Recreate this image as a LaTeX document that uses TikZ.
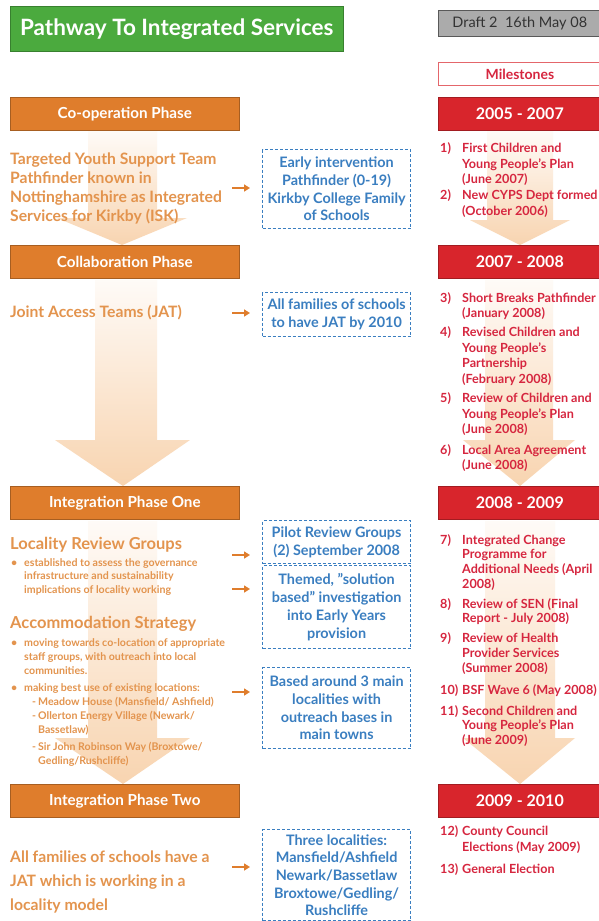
\documentclass[tikz,border=0pt]{standalone}
\usepackage{fontspec}
\setmainfont{Lato}
\usetikzlibrary{arrows.meta}
\definecolor{grn}{HTML}{4BAA3E}
\definecolor{org}{HTML}{DF7D2C}
\definecolor{orgtxt}{HTML}{E3944E}
\definecolor{redbar}{HTML}{D8252C}
\definecolor{redtxt}{HTML}{D6263F}
\definecolor{bluetxt}{HTML}{3A7EC0}
\definecolor{peach}{HTML}{F8D4B0}
\definecolor{gry}{HTML}{ABABAB}
\tikzset{
 phasebar/.style={anchor=north west, fill=org, draw=org!75!black, line width=0.6pt, minimum width=229pt, minimum height=33pt, inner sep=0pt, text=white, font=\bfseries\fontsize{15.2}{17}\selectfont},
 yearbar/.style={anchor=north west, fill=redbar, draw=redbar!75!black, line width=0.6pt, minimum width=163pt, minimum height=33pt, inner sep=0pt, text=white, font=\bfseries\fontsize{16}{18}\selectfont},
 lefttext/.style={inner sep=0pt, text=orgtxt, font=\bfseries\fontsize{15.7}{19.3}\selectfont},
 smalltext/.style={anchor=north west, inner sep=0pt, text=orgtxt, font=\bfseries\fontsize{10.6}{13.5}\selectfont},
 bluebox/.style={anchor=north west, draw=bluetxt, dash pattern=on 3pt off 2pt, line width=1.2pt, minimum width=148pt, inner sep=0pt, align=center, text=bluetxt, font=\bfseries\fontsize{14.4}{17.7}\selectfont},
 mstext/.style={anchor=north west, inner sep=0pt, text=redtxt},
 smallarrow/.style={draw=org, line width=2.4pt, -{Triangle[length=6pt,width=7pt]}},
 bgarrow/.style={top color=peach!10, bottom color=peach, draw=none},
}
\begin{document}
\begin{tikzpicture}[x=1pt,y=-1pt]
\useasboundingbox (0,0) rectangle (599,921);
\fill[white] (0,0) rectangle (599,921);
% background arrows
\shade[bgarrow] (88,131) -- (157,131) -- (157,218) -- (187,218) -- (122,245) -- (57,218) -- (88,218) -- cycle;
\shade[bgarrow] (95,280) -- (157,280) -- (157,440) -- (190,440) -- (123,486) -- (55,440) -- (95,440) -- cycle;
\shade[bgarrow] (88,521) -- (157,521) -- (157,738) -- (190,738) -- (123,784) -- (55,738) -- (88,738) -- cycle;
\shade[bgarrow] (487,131) -- (553,131) -- (553,220) -- (570,220) -- (520,245) -- (470,220) -- (487,220) -- cycle;
\shade[bgarrow] (485,280) -- (553,280) -- (553,440) -- (575,440) -- (520,486) -- (463,440) -- (485,440) -- cycle;
\shade[bgarrow] (485,521) -- (555,521) -- (555,738) -- (575,738) -- (520,784) -- (463,738) -- (485,738) -- cycle;

% header
\node[anchor=north west, fill=grn, draw=grn!75!black, line width=0.6pt, minimum width=333pt, minimum height=45pt, inner sep=0pt, text=white, font=\bfseries\fontsize{22.5}{25}\selectfont] (title) at (10,6) {Pathway To Integrated Services};
\node[anchor=north west, fill=gry, draw=gray!70!black, line width=0.6pt, minimum width=163pt, minimum height=26pt, inner sep=0pt, text=black!80, font=\fontsize{14.5}{16}\selectfont] (draft) at (438,10) {Draft 2\ \ 16th May 08};
\node[anchor=north west, fill=white, draw=redbar!70, line width=0.8pt, minimum width=163pt, minimum height=23pt, inner sep=0pt, text=redtxt, font=\bfseries\fontsize{14}{15}\selectfont] (miles) at (438,62) {Milestones};

% phase bars
\node[phasebar] (p1) at (10,97) {Co-operation Phase};
\node[phasebar] (p2) at (10,245) {Collaboration Phase};
\node[phasebar] (p3) at (10,486) {Integration Phase One};
\node[phasebar] (p4) at (10,784) {Integration Phase Two};
\node[yearbar] (y1) at (438,97) {2005 - 2007};
\node[yearbar] (y2) at (438,245) {2007 - 2008};
\node[yearbar] (y3) at (438,486) {2008 - 2009};
\node[yearbar] (y4) at (438,784) {2009 - 2010};

% left texts
\node[lefttext, anchor=north west] (t1) at (10,150.3) {\begin{tabular}{@{}l@{}}Targeted Youth Support Team\\ Pathfinder known in\\ Nottinghamshire as Integrated\\ Services for Kirkby (ISK)\end{tabular}};
\node[lefttext, anchor=base west] (t2) at (10,317.8) {Joint Access Teams (JAT)};
\node[inner sep=0pt, text=orgtxt, font=\bfseries\fontsize{16.5}{18}\selectfont, anchor=base west] (t3) at (10,549) {Locality Review Groups};
\node[smalltext] (t3b) at (11,556.8) {\begin{tabular}{@{}p{13pt}@{}l@{}}\textbullet & established to assess the governance\\ & infrastructure and sustainability\\ & implications of locality working\end{tabular}};
\node[inner sep=0pt, text=orgtxt, font=\bfseries\fontsize{16.5}{18}\selectfont, anchor=base west] (t4) at (10,628.8) {Accommodation Strategy};
\node[smalltext, font=\bfseries\fontsize{10.6}{14}\selectfont] (t4b) at (11,636.8) {\begin{tabular}{@{}p{13pt}@{}p{14pt}@{}l@{}}\textbullet & \multicolumn{2}{@{}l@{}}{moving towards co-location of appropriate}\\ & \multicolumn{2}{@{}l@{}}{staff groups, with outreach into local}\\ & \multicolumn{2}{@{}l@{}}{communities.}\\[3pt]
\textbullet & \multicolumn{2}{@{}l@{}}{making best use of existing locations:}\\
 & \hspace{8pt}- & Meadow House (Mansfield/ Ashfield)\\
 & \hspace{8pt}- & Ollerton Energy Village (Newark/\\
 & & Bassetlaw)\\[2.5pt]
 & \hspace{8pt}- & Sir John Robinson Way (Broxtowe/\\
 & & Gedling/Rushcliffe)\end{tabular}};
\node[lefttext, anchor=north west, font=\bfseries\fontsize{15.7}{24}\selectfont] (t5) at (10,845.6) {\begin{tabular}{@{}l@{}}All families of schools have a\\ JAT which is working in a\\ locality model\end{tabular}};

% blue boxes
\node[bluebox, minimum height=79pt] (b1) at (262,149) {Early intervention\\ Pathfinder (0-19)\\ Kirkby College Family\\ of Schools};
\node[bluebox, minimum height=44pt] (b2) at (262,292) {All families of schools\\ to have JAT by 2010};
\node[bluebox, minimum height=43pt] (b3) at (262,520) {Pilot Review Groups\\ (2) September 2008};
\node[bluebox, minimum height=83pt] (b4) at (262,565) {Themed, ''solution\\ based'' investigation\\ into Early Years\\ provision};
\node[bluebox, minimum height=81pt] (b5) at (262,667) {Based around 3 main\\ localities with\\ outreach bases in\\ main towns};
\node[bluebox, minimum height=91pt] (b6) at (262,829) {Three localities:\\ Mansfield/Ashfield\\ Newark/Bassetlaw\\ Broxtowe/Gedling/\\ Rushcliffe};

% small arrows
\coordinate (s1) at (232,188); \coordinate (e1) at (250,188);
\coordinate (s2) at (232,313); \coordinate (e2) at (250,313);
\coordinate (s3) at (232,555); \coordinate (e3) at (250,555);
\coordinate (s4) at (232,589); \coordinate (e4) at (250,589);
\coordinate (s5) at (232,692); \coordinate (e5) at (250,692);
\coordinate (s6) at (232,867); \coordinate (e6) at (250,867);
\foreach \i in {1,...,6} {\draw[smallarrow] (s\i) -- (e\i);}

% milestones
\node[mstext, font=\bfseries\fontsize{12.6}{15.5}\selectfont] (m1) at (440,141.7) {\begin{tabular}{@{}p{22pt}@{}l@{}}1) & First Children and\\ & Young People's Plan\\ & (June 2007)\\[0.5pt] 2) & New CYPS Dept formed\\ & (October 2006)\end{tabular}};
\node[mstext, font=\bfseries\fontsize{12.6}{15.5}\selectfont] (m2) at (440,291.2) {\begin{tabular}{@{}p{22pt}@{}l@{}}3) & Short Breaks Pathfinder\\ & (January 2008)\\[3.5pt] 4) & Revised Children and\\ & Young People's\\ & Partnership\\ & (February 2008)\\[4pt] 5) & Review of Children and\\ & Young People's Plan\\ & (June 2008)\\[5pt] 6) & Local Area Agreement\\ & (June 2008)\end{tabular}};
\node[mstext, font=\bfseries\fontsize{12.6}{14.7}\selectfont] (m3) at (440,533.8) {\begin{tabular}{@{}p{22pt}@{}l@{}}7) & Integrated Change\\ & Programme for\\ & Additional Needs (April\\ & 2008)\\[5pt] 8) & Review of SEN (Final\\ & Report - July 2008)\\[5.5pt] 9) & Review of Health\\ & Provider Services\\ & (Summer 2008)\\[7.5pt] 10) & BSF Wave 6 (May 2008)\\[6pt] 11) & Second Children and\\ & Young People's Plan\\ & (June 2009)\end{tabular}};
\node[mstext, font=\bfseries\fontsize{12.6}{16}\selectfont] (m4) at (440,823.9) {\begin{tabular}{@{}p{22pt}@{}l@{}}12) & County Council\\ & Elections (May 2009)\\[6pt] 13) & General Election\end{tabular}};
\end{tikzpicture}
\end{document}
